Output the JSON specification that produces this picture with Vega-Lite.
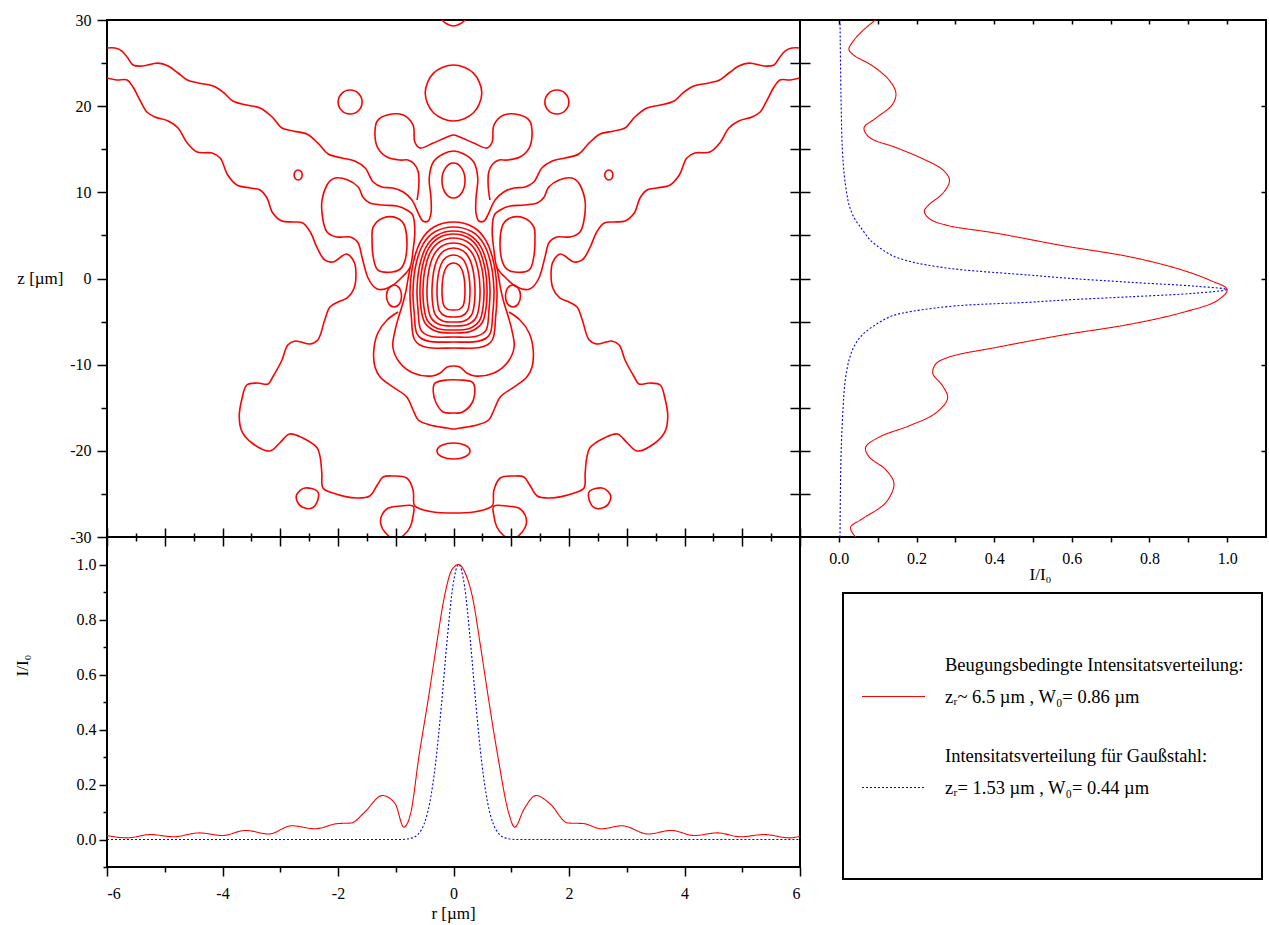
{
  "$schema": "https://vega.github.io/schema/vega-lite/v6.json",
  "autosize": {"type": "none"},
  "padding": {"left": 107, "top": 20, "right": 1162, "bottom": 905},
  "background": "white",
  "columns": 2,
  "align": "each",
  "bounds": "flush",
  "spacing": 0,
  "config": {
    "font": "Liberation Serif",
    "view": {"stroke": "black", "strokeWidth": 2},
    "axis": {"domain": false, "grid": false, "tickColor": "black", "tickWidth": 1.5, "labelFont": "Liberation Serif", "labelFontSize": 16, "labelColor": "black", "titleFont": "Liberation Serif", "titleFontSize": 17, "titleFontWeight": "normal", "titleColor": "black"}
  },
  "datasets": {
    "paths": [
      {"p":"w1","o":1,"r":-6.0,"z":26.75},{"p":"w1","o":2,"r":-5.86,"z":26.75},{"p":"w1","o":3,"r":-5.74,"z":26.4},{"p":"w1","o":4,"r":-5.64,"z":25.59},{"p":"w1","o":5,"r":-5.55,"z":24.78},{"p":"w1","o":6,"r":-5.38,"z":24.66},{"p":"w1","o":7,"r":-5.12,"z":25.0},{"p":"w1","o":8,"r":-4.94,"z":24.66},{"p":"w1","o":9,"r":-4.77,"z":23.85},{"p":"w1","o":10,"r":-4.61,"z":23.04},{"p":"w1","o":11,"r":-4.42,"z":22.69},{"p":"w1","o":12,"r":-4.16,"z":22.34},{"p":"w1","o":13,"r":-3.99,"z":21.64},{"p":"w1","o":14,"r":-3.82,"z":20.6},{"p":"w1","o":15,"r":-3.58,"z":20.13},{"p":"w1","o":16,"r":-3.35,"z":19.79},{"p":"w1","o":17,"r":-3.14,"z":18.74},{"p":"w1","o":18,"r":-2.97,"z":17.47},{"p":"w1","o":19,"r":-2.78,"z":17.12},{"p":"w1","o":20,"r":-2.54,"z":16.77},{"p":"w1","o":21,"r":-2.35,"z":15.73},{"p":"w1","o":22,"r":-2.17,"z":14.45},{"p":"w1","o":23,"r":-1.93,"z":13.98},{"p":"w1","o":24,"r":-1.71,"z":13.64},{"p":"w1","o":25,"r":-1.53,"z":12.82},{"p":"w1","o":26,"r":-1.39,"z":11.2},{"p":"w1","o":27,"r":-1.24,"z":10.62},{"p":"w1","o":28,"r":-1.05,"z":10.5},{"p":"w1","o":29,"r":-0.87,"z":10.04},{"p":"w1","o":30,"r":-0.72,"z":9.11},{"p":"w1","o":31,"r":-0.61,"z":7.6},{"p":"w1","o":32,"r":-0.53,"z":6.67},{"p":"w1","o":33,"r":-0.44,"z":6.67},{"p":"w1","o":34,"r":-0.39,"z":7.6},{"p":"w1","o":35,"r":-0.39,"z":9.34},{"p":"w1","o":36,"r":-0.42,"z":11.66},{"p":"w1","o":37,"r":-0.35,"z":13.52},{"p":"w1","o":38,"r":-0.18,"z":14.45},{"p":"w1","o":39,"r":0,"z":14.8},{"p":"w1","o":40,"r":0.18,"z":14.45},{"p":"w1","o":41,"r":0.35,"z":13.52},{"p":"w1","o":42,"r":0.42,"z":11.66},{"p":"w1","o":43,"r":0.39,"z":9.34},{"p":"w1","o":44,"r":0.39,"z":7.6},{"p":"w1","o":45,"r":0.44,"z":6.67},{"p":"w1","o":46,"r":0.53,"z":6.67},{"p":"w1","o":47,"r":0.61,"z":7.6},{"p":"w1","o":48,"r":0.72,"z":9.11},{"p":"w1","o":49,"r":0.87,"z":10.04},{"p":"w1","o":50,"r":1.05,"z":10.5},{"p":"w1","o":51,"r":1.24,"z":10.62},{"p":"w1","o":52,"r":1.39,"z":11.2},{"p":"w1","o":53,"r":1.53,"z":12.82},{"p":"w1","o":54,"r":1.71,"z":13.64},{"p":"w1","o":55,"r":1.93,"z":13.98},{"p":"w1","o":56,"r":2.17,"z":14.45},{"p":"w1","o":57,"r":2.35,"z":15.73},{"p":"w1","o":58,"r":2.54,"z":16.77},{"p":"w1","o":59,"r":2.78,"z":17.12},{"p":"w1","o":60,"r":2.97,"z":17.47},{"p":"w1","o":61,"r":3.14,"z":18.74},{"p":"w1","o":62,"r":3.35,"z":19.79},{"p":"w1","o":63,"r":3.58,"z":20.13},{"p":"w1","o":64,"r":3.82,"z":20.6},{"p":"w1","o":65,"r":3.99,"z":21.64},{"p":"w1","o":66,"r":4.16,"z":22.34},{"p":"w1","o":67,"r":4.42,"z":22.69},{"p":"w1","o":68,"r":4.61,"z":23.04},{"p":"w1","o":69,"r":4.77,"z":23.85},{"p":"w1","o":70,"r":4.94,"z":24.66},{"p":"w1","o":71,"r":5.12,"z":25.0},{"p":"w1","o":72,"r":5.38,"z":24.66},{"p":"w1","o":73,"r":5.55,"z":24.78},{"p":"w1","o":74,"r":5.64,"z":25.59},{"p":"w1","o":75,"r":5.74,"z":26.4},{"p":"w1","o":76,"r":5.86,"z":26.75},{"p":"w1","o":77,"r":6.0,"z":26.75},

      {"p":"w2","o":1,"r":-6.0,"z":23.27},{"p":"w2","o":2,"r":-5.83,"z":23.04},{"p":"w2","o":3,"r":-5.65,"z":23.04},{"p":"w2","o":4,"r":-5.55,"z":22.22},{"p":"w2","o":5,"r":-5.43,"z":20.71},{"p":"w2","o":6,"r":-5.31,"z":19.32},{"p":"w2","o":7,"r":-5.17,"z":18.74},{"p":"w2","o":8,"r":-4.94,"z":18.28},{"p":"w2","o":9,"r":-4.77,"z":17.47},{"p":"w2","o":10,"r":-4.61,"z":15.73},{"p":"w2","o":11,"r":-4.44,"z":14.68},{"p":"w2","o":12,"r":-4.18,"z":14.56},{"p":"w2","o":13,"r":-4.04,"z":13.98},{"p":"w2","o":14,"r":-3.91,"z":12.01},{"p":"w2","o":15,"r":-3.75,"z":10.85},{"p":"w2","o":16,"r":-3.52,"z":10.5},{"p":"w2","o":17,"r":-3.35,"z":10.27},{"p":"w2","o":18,"r":-3.23,"z":9.34},{"p":"w2","o":19,"r":-3.13,"z":7.6},{"p":"w2","o":20,"r":-2.97,"z":6.67},{"p":"w2","o":21,"r":-2.78,"z":6.56},{"p":"w2","o":22,"r":-2.61,"z":6.44},{"p":"w2","o":23,"r":-2.48,"z":5.4},{"p":"w2","o":24,"r":-2.36,"z":3.54},{"p":"w2","o":25,"r":-2.23,"z":2.15},{"p":"w2","o":26,"r":-2.09,"z":1.91},{"p":"w2","o":27,"r":-1.85,"z":2.84},{"p":"w2","o":28,"r":-1.72,"z":1.91},{"p":"w2","o":29,"r":-1.69,"z":0.75},{"p":"w2","o":30,"r":-1.72,"z":-1.1},{"p":"w2","o":31,"r":-1.84,"z":-2.26},{"p":"w2","o":32,"r":-2.0,"z":-2.73},{"p":"w2","o":33,"r":-2.14,"z":-3.31},{"p":"w2","o":34,"r":-2.23,"z":-4.82},{"p":"w2","o":35,"r":-2.35,"z":-7.14},{"p":"w2","o":36,"r":-2.48,"z":-7.6},{"p":"w2","o":37,"r":-2.74,"z":-7.25},{"p":"w2","o":38,"r":-2.87,"z":-7.72},{"p":"w2","o":39,"r":-2.97,"z":-9.46},{"p":"w2","o":40,"r":-3.13,"z":-11.43},{"p":"w2","o":41,"r":-3.21,"z":-12.24},{"p":"w2","o":42,"r":-3.4,"z":-12.13},{"p":"w2","o":43,"r":-3.58,"z":-12.36},{"p":"w2","o":44,"r":-3.66,"z":-13.87},{"p":"w2","o":45,"r":-3.71,"z":-16.07},{"p":"w2","o":46,"r":-3.66,"z":-17.81},{"p":"w2","o":47,"r":-3.49,"z":-19.09},{"p":"w2","o":48,"r":-3.18,"z":-20.02},{"p":"w2","o":49,"r":-3.01,"z":-19.09},{"p":"w2","o":50,"r":-2.84,"z":-18.05},{"p":"w2","o":51,"r":-2.61,"z":-18.51},{"p":"w2","o":52,"r":-2.36,"z":-19.67},{"p":"w2","o":53,"r":-2.31,"z":-20.71},{"p":"w2","o":54,"r":-2.28,"z":-22.57},{"p":"w2","o":55,"r":-2.26,"z":-24.31},{"p":"w2","o":56,"r":-2.09,"z":-24.89},{"p":"w2","o":57,"r":-1.67,"z":-25.47},{"p":"w2","o":58,"r":-1.45,"z":-25.24},{"p":"w2","o":59,"r":-1.32,"z":-23.96},{"p":"w2","o":60,"r":-1.22,"z":-23.04},{"p":"w2","o":61,"r":-1.05,"z":-22.92},{"p":"w2","o":62,"r":-0.81,"z":-23.15},{"p":"w2","o":63,"r":-0.7,"z":-24.54},{"p":"w2","o":64,"r":-0.68,"z":-26.29},{"p":"w2","o":65,"r":-0.61,"z":-26.64},{"p":"w2","o":66,"r":-0.35,"z":-27.1},{"p":"w2","o":67,"r":0,"z":-27.21},{"p":"w2","o":68,"r":0.35,"z":-27.1},{"p":"w2","o":69,"r":0.61,"z":-26.64},{"p":"w2","o":70,"r":0.68,"z":-26.29},{"p":"w2","o":71,"r":0.7,"z":-24.54},{"p":"w2","o":72,"r":0.81,"z":-23.15},{"p":"w2","o":73,"r":1.05,"z":-22.92},{"p":"w2","o":74,"r":1.22,"z":-23.04},{"p":"w2","o":75,"r":1.32,"z":-23.96},{"p":"w2","o":76,"r":1.45,"z":-25.24},{"p":"w2","o":77,"r":1.67,"z":-25.47},{"p":"w2","o":78,"r":2.09,"z":-24.89},{"p":"w2","o":79,"r":2.26,"z":-24.31},{"p":"w2","o":80,"r":2.28,"z":-22.57},{"p":"w2","o":81,"r":2.31,"z":-20.71},{"p":"w2","o":82,"r":2.36,"z":-19.67},{"p":"w2","o":83,"r":2.61,"z":-18.51},{"p":"w2","o":84,"r":2.84,"z":-18.05},{"p":"w2","o":85,"r":3.01,"z":-19.09},{"p":"w2","o":86,"r":3.18,"z":-20.02},{"p":"w2","o":87,"r":3.49,"z":-19.09},{"p":"w2","o":88,"r":3.66,"z":-17.81},{"p":"w2","o":89,"r":3.71,"z":-16.07},{"p":"w2","o":90,"r":3.66,"z":-13.87},{"p":"w2","o":91,"r":3.58,"z":-12.36},{"p":"w2","o":92,"r":3.4,"z":-12.13},{"p":"w2","o":93,"r":3.21,"z":-12.24},{"p":"w2","o":94,"r":3.13,"z":-11.43},{"p":"w2","o":95,"r":2.97,"z":-9.46},{"p":"w2","o":96,"r":2.87,"z":-7.72},{"p":"w2","o":97,"r":2.74,"z":-7.25},{"p":"w2","o":98,"r":2.48,"z":-7.6},{"p":"w2","o":99,"r":2.35,"z":-7.14},{"p":"w2","o":100,"r":2.23,"z":-4.82},{"p":"w2","o":101,"r":2.14,"z":-3.31},{"p":"w2","o":102,"r":2.0,"z":-2.73},{"p":"w2","o":103,"r":1.84,"z":-2.26},{"p":"w2","o":104,"r":1.72,"z":-1.1},{"p":"w2","o":105,"r":1.69,"z":0.75},{"p":"w2","o":106,"r":1.72,"z":1.91},{"p":"w2","o":107,"r":1.85,"z":2.84},{"p":"w2","o":108,"r":2.09,"z":1.91},{"p":"w2","o":109,"r":2.23,"z":2.15},{"p":"w2","o":110,"r":2.36,"z":3.54},{"p":"w2","o":111,"r":2.48,"z":5.4},{"p":"w2","o":112,"r":2.61,"z":6.44},{"p":"w2","o":113,"r":2.78,"z":6.56},{"p":"w2","o":114,"r":2.97,"z":6.67},{"p":"w2","o":115,"r":3.13,"z":7.6},{"p":"w2","o":116,"r":3.23,"z":9.34},{"p":"w2","o":117,"r":3.35,"z":10.27},{"p":"w2","o":118,"r":3.52,"z":10.5},{"p":"w2","o":119,"r":3.75,"z":10.85},{"p":"w2","o":120,"r":3.91,"z":12.01},{"p":"w2","o":121,"r":4.04,"z":13.98},{"p":"w2","o":122,"r":4.18,"z":14.56},{"p":"w2","o":123,"r":4.44,"z":14.68},{"p":"w2","o":124,"r":4.61,"z":15.73},{"p":"w2","o":125,"r":4.77,"z":17.47},{"p":"w2","o":126,"r":4.94,"z":18.28},{"p":"w2","o":127,"r":5.17,"z":18.74},{"p":"w2","o":128,"r":5.31,"z":19.32},{"p":"w2","o":129,"r":5.43,"z":20.71},{"p":"w2","o":130,"r":5.55,"z":22.22},{"p":"w2","o":131,"r":5.65,"z":23.04},{"p":"w2","o":132,"r":5.83,"z":23.04},{"p":"w2","o":133,"r":6.0,"z":23.27},

      {"p":"ear","o":1,"r":-0.63,"z":9.11},{"p":"ear","o":2,"r":-0.6,"z":10.85},{"p":"ear","o":3,"r":-0.61,"z":12.36},{"p":"ear","o":4,"r":-0.68,"z":13.29},{"p":"ear","o":5,"r":-0.79,"z":13.75},{"p":"ear","o":6,"r":-0.93,"z":13.75},{"p":"ear","o":7,"r":-1.15,"z":14.1},{"p":"ear","o":8,"r":-1.31,"z":15.14},{"p":"ear","o":9,"r":-1.36,"z":16.65},{"p":"ear","o":10,"r":-1.32,"z":18.28},{"p":"ear","o":11,"r":-1.15,"z":18.97},{"p":"ear","o":12,"r":-0.87,"z":18.97},{"p":"ear","o":13,"r":-0.7,"z":17.81},{"p":"ear","o":14,"r":-0.67,"z":15.84},{"p":"ear","o":15,"r":-0.58,"z":15.14},{"p":"ear","o":16,"r":-0.35,"z":15.72},{"p":"ear","o":17,"r":-0.11,"z":16.42},{"p":"ear","o":18,"r":0,"z":16.65},{"p":"ear","o":19,"r":0.11,"z":16.42},{"p":"ear","o":20,"r":0.35,"z":15.72},{"p":"ear","o":21,"r":0.58,"z":15.14},{"p":"ear","o":22,"r":0.67,"z":15.84},{"p":"ear","o":23,"r":0.7,"z":17.81},{"p":"ear","o":24,"r":0.87,"z":18.97},{"p":"ear","o":25,"r":1.15,"z":18.97},{"p":"ear","o":26,"r":1.32,"z":18.28},{"p":"ear","o":27,"r":1.36,"z":16.65},{"p":"ear","o":28,"r":1.31,"z":15.14},{"p":"ear","o":29,"r":1.15,"z":14.1},{"p":"ear","o":30,"r":0.93,"z":13.75},{"p":"ear","o":31,"r":0.79,"z":13.75},{"p":"ear","o":32,"r":0.68,"z":13.29},{"p":"ear","o":33,"r":0.61,"z":12.36},{"p":"ear","o":34,"r":0.6,"z":10.85},{"p":"ear","o":35,"r":0.63,"z":9.11},

      {"p":"c4","o":1,"r":-0.96,"z":-3.89},{"p":"c4","o":2,"r":-1.15,"z":-4.82},{"p":"c4","o":3,"r":-1.31,"z":-6.32},{"p":"c4","o":4,"r":-1.38,"z":-8.3},{"p":"c4","o":5,"r":-1.36,"z":-10.27},{"p":"c4","o":6,"r":-1.27,"z":-11.43},{"p":"c4","o":7,"r":-1.05,"z":-12.59},{"p":"c4","o":8,"r":-0.81,"z":-13.75},{"p":"c4","o":9,"r":-0.7,"z":-15.26},{"p":"c4","o":10,"r":-0.61,"z":-16.42},{"p":"c4","o":11,"r":-0.41,"z":-17.0},{"p":"c4","o":12,"r":-0.11,"z":-17.35},{"p":"c4","o":13,"r":0,"z":-17.47},{"p":"c4","o":14,"r":0.11,"z":-17.35},{"p":"c4","o":15,"r":0.41,"z":-17.0},{"p":"c4","o":16,"r":0.61,"z":-16.42},{"p":"c4","o":17,"r":0.7,"z":-15.26},{"p":"c4","o":18,"r":0.81,"z":-13.75},{"p":"c4","o":19,"r":1.05,"z":-12.59},{"p":"c4","o":20,"r":1.27,"z":-11.43},{"p":"c4","o":21,"r":1.36,"z":-10.27},{"p":"c4","o":22,"r":1.38,"z":-8.3},{"p":"c4","o":23,"r":1.31,"z":-6.32},{"p":"c4","o":24,"r":1.15,"z":-4.82},{"p":"c4","o":25,"r":0.96,"z":-3.89},

      {"p":"c5","o":1,"r":-0.75,"z":1.33},{"p":"c5","o":2,"r":-0.79,"z":-0.17},{"p":"c5","o":3,"r":-0.82,"z":-1.33},{"p":"c5","o":4,"r":-0.87,"z":-2.73},{"p":"c5","o":5,"r":-0.94,"z":-4.24},{"p":"c5","o":6,"r":-1.01,"z":-5.98},{"p":"c5","o":7,"r":-1.05,"z":-7.95},{"p":"c5","o":8,"r":-0.94,"z":-9.69},{"p":"c5","o":9,"r":-0.7,"z":-10.97},{"p":"c5","o":10,"r":-0.37,"z":-11.31},{"p":"c5","o":11,"r":-0.23,"z":-10.97},{"p":"c5","o":12,"r":-0.11,"z":-10.27},{"p":"c5","o":13,"r":0,"z":-10.15},{"p":"c5","o":14,"r":0.11,"z":-10.27},{"p":"c5","o":15,"r":0.23,"z":-10.97},{"p":"c5","o":16,"r":0.37,"z":-11.31},{"p":"c5","o":17,"r":0.7,"z":-10.97},{"p":"c5","o":18,"r":0.94,"z":-9.69},{"p":"c5","o":19,"r":1.05,"z":-7.95},{"p":"c5","o":20,"r":1.01,"z":-5.98},{"p":"c5","o":21,"r":0.94,"z":-4.24},{"p":"c5","o":22,"r":0.87,"z":-2.73},{"p":"c5","o":23,"r":0.82,"z":-1.33},{"p":"c5","o":24,"r":0.79,"z":-0.17},{"p":"c5","o":25,"r":0.75,"z":1.33},

      {"p":"arc","o":1,"r":-0.27,"z":30.7},{"p":"arc","o":2,"r":-0.2,"z":30.0},{"p":"arc","o":3,"r":-0.11,"z":29.53},{"p":"arc","o":4,"r":0,"z":29.3},{"p":"arc","o":5,"r":0.11,"z":29.53},{"p":"arc","o":6,"r":0.2,"z":30.0},{"p":"arc","o":7,"r":0.27,"z":30.7}
    ],
    "loops": [
      {"p":"c22","o":1,"r":0.49,"z":21.53},{"p":"c22","o":2,"r":0.346,"z":23.83},{"p":"c22","o":3,"r":0,"z":24.78},{"p":"c22","o":4,"r":-0.346,"z":23.83},{"p":"c22","o":5,"r":-0.49,"z":21.53},{"p":"c22","o":6,"r":-0.346,"z":19.23},{"p":"c22","o":7,"r":0,"z":18.28},{"p":"c22","o":8,"r":0.346,"z":19.23},

      {"p":"sml","o":1,"r":-1.582,"z":20.48},{"p":"sml","o":2,"r":-1.643,"z":21.46},{"p":"sml","o":3,"r":-1.79,"z":21.87},{"p":"sml","o":4,"r":-1.937,"z":21.46},{"p":"sml","o":5,"r":-1.998,"z":20.48},{"p":"sml","o":6,"r":-1.937,"z":19.5},{"p":"sml","o":7,"r":-1.79,"z":19.09},{"p":"sml","o":8,"r":-1.643,"z":19.5},
      {"p":"smr","o":1,"r":1.582,"z":20.48},{"p":"smr","o":2,"r":1.643,"z":21.46},{"p":"smr","o":3,"r":1.79,"z":21.87},{"p":"smr","o":4,"r":1.937,"z":21.46},{"p":"smr","o":5,"r":1.998,"z":20.48},{"p":"smr","o":6,"r":1.937,"z":19.5},{"p":"smr","o":7,"r":1.79,"z":19.09},{"p":"smr","o":8,"r":1.643,"z":19.5},

      {"p":"dl","o":1,"r":-2.62,"z":12.01},{"p":"dl","o":2,"r":-2.64,"z":12.42},{"p":"dl","o":3,"r":-2.69,"z":12.59},{"p":"dl","o":4,"r":-2.74,"z":12.42},{"p":"dl","o":5,"r":-2.76,"z":12.01},{"p":"dl","o":6,"r":-2.74,"z":11.6},{"p":"dl","o":7,"r":-2.69,"z":11.43},{"p":"dl","o":8,"r":-2.64,"z":11.6},
      {"p":"dr","o":1,"r":2.62,"z":12.01},{"p":"dr","o":2,"r":2.64,"z":12.42},{"p":"dr","o":3,"r":2.69,"z":12.59},{"p":"dr","o":4,"r":2.74,"z":12.42},{"p":"dr","o":5,"r":2.76,"z":12.01},{"p":"dr","o":6,"r":2.74,"z":11.6},{"p":"dr","o":7,"r":2.69,"z":11.43},{"p":"dr","o":8,"r":2.64,"z":11.6},

      {"p":"e11","o":1,"r":0.2,"z":11.37},{"p":"e11","o":2,"r":0.141,"z":12.81},{"p":"e11","o":3,"r":0,"z":13.4},{"p":"e11","o":4,"r":-0.141,"z":12.81},{"p":"e11","o":5,"r":-0.2,"z":11.37},{"p":"e11","o":6,"r":-0.141,"z":9.93},{"p":"e11","o":7,"r":0,"z":9.34},{"p":"e11","o":8,"r":0.141,"z":9.93},

      {"p":"la","o":1,"r":-0.7,"z":7.25},{"p":"la","o":2,"r":-0.81,"z":7.95},{"p":"la","o":3,"r":-0.98,"z":8.41},{"p":"la","o":4,"r":-1.22,"z":8.53},{"p":"la","o":5,"r":-1.45,"z":8.76},{"p":"la","o":6,"r":-1.57,"z":9.46},{"p":"la","o":7,"r":-1.65,"z":10.62},{"p":"la","o":8,"r":-1.83,"z":11.43},{"p":"la","o":9,"r":-2.05,"z":11.66},{"p":"la","o":10,"r":-2.19,"z":10.85},{"p":"la","o":11,"r":-2.28,"z":8.88},{"p":"la","o":12,"r":-2.26,"z":6.79},{"p":"la","o":13,"r":-2.19,"z":5.4},{"p":"la","o":14,"r":-2.02,"z":4.82},{"p":"la","o":15,"r":-1.79,"z":4.82},{"p":"la","o":16,"r":-1.65,"z":4.12},{"p":"la","o":17,"r":-1.58,"z":2.38},{"p":"la","o":18,"r":-1.48,"z":0.06},{"p":"la","o":19,"r":-1.32,"z":-1.22},{"p":"la","o":20,"r":-1.1,"z":-0.99},{"p":"la","o":21,"r":-0.89,"z":0.17},{"p":"la","o":22,"r":-0.75,"z":1.33},{"p":"la","o":23,"r":-0.7,"z":3.31},{"p":"la","o":24,"r":-0.67,"z":5.4},
      {"p":"ra","o":1,"r":0.7,"z":7.25},{"p":"ra","o":2,"r":0.81,"z":7.95},{"p":"ra","o":3,"r":0.98,"z":8.41},{"p":"ra","o":4,"r":1.22,"z":8.53},{"p":"ra","o":5,"r":1.45,"z":8.76},{"p":"ra","o":6,"r":1.57,"z":9.46},{"p":"ra","o":7,"r":1.65,"z":10.62},{"p":"ra","o":8,"r":1.83,"z":11.43},{"p":"ra","o":9,"r":2.05,"z":11.66},{"p":"ra","o":10,"r":2.19,"z":10.85},{"p":"ra","o":11,"r":2.28,"z":8.88},{"p":"ra","o":12,"r":2.26,"z":6.79},{"p":"ra","o":13,"r":2.19,"z":5.4},{"p":"ra","o":14,"r":2.02,"z":4.82},{"p":"ra","o":15,"r":1.79,"z":4.82},{"p":"ra","o":16,"r":1.65,"z":4.12},{"p":"ra","o":17,"r":1.58,"z":2.38},{"p":"ra","o":18,"r":1.48,"z":0.06},{"p":"ra","o":19,"r":1.32,"z":-1.22},{"p":"ra","o":20,"r":1.1,"z":-0.99},{"p":"ra","o":21,"r":0.89,"z":0.17},{"p":"ra","o":22,"r":0.75,"z":1.33},{"p":"ra","o":23,"r":0.7,"z":3.31},{"p":"ra","o":24,"r":0.67,"z":5.4},

      {"p":"le","o":1,"r":-1.39,"z":5.98},{"p":"le","o":2,"r":-1.22,"z":7.02},{"p":"le","o":3,"r":-0.98,"z":7.02},{"p":"le","o":4,"r":-0.84,"z":5.98},{"p":"le","o":5,"r":-0.81,"z":3.31},{"p":"le","o":6,"r":-0.89,"z":1.33},{"p":"le","o":7,"r":-1.06,"z":0.75},{"p":"le","o":8,"r":-1.31,"z":0.99},{"p":"le","o":9,"r":-1.39,"z":2.5},{"p":"le","o":10,"r":-1.41,"z":4.47},
      {"p":"re","o":1,"r":1.39,"z":5.98},{"p":"re","o":2,"r":1.22,"z":7.02},{"p":"re","o":3,"r":0.98,"z":7.02},{"p":"re","o":4,"r":0.84,"z":5.98},{"p":"re","o":5,"r":0.81,"z":3.31},{"p":"re","o":6,"r":0.89,"z":1.33},{"p":"re","o":7,"r":1.06,"z":0.75},{"p":"re","o":8,"r":1.31,"z":0.99},{"p":"re","o":9,"r":1.39,"z":2.5},{"p":"re","o":10,"r":1.41,"z":4.47},

      {"p":"sdl","o":1,"r":-0.9,"z":-2.03},{"p":"sdl","o":2,"r":-0.935,"z":-1.125},{"p":"sdl","o":3,"r":-1.03,"z":-0.75},{"p":"sdl","o":4,"r":-1.122,"z":-1.125},{"p":"sdl","o":5,"r":-1.16,"z":-2.03},{"p":"sdl","o":6,"r":-1.122,"z":-2.935},{"p":"sdl","o":7,"r":-1.03,"z":-3.31},{"p":"sdl","o":8,"r":-0.935,"z":-2.935},
      {"p":"sdr","o":1,"r":0.9,"z":-2.03},{"p":"sdr","o":2,"r":0.935,"z":-1.125},{"p":"sdr","o":3,"r":1.03,"z":-0.75},{"p":"sdr","o":4,"r":1.122,"z":-1.125},{"p":"sdr","o":5,"r":1.16,"z":-2.03},{"p":"sdr","o":6,"r":1.122,"z":-2.935},{"p":"sdr","o":7,"r":1.03,"z":-3.31},{"p":"sdr","o":8,"r":0.935,"z":-2.935},

      {"p":"n1","o":1,"r":0,"z":1.8},{"p":"n1","o":2,"r":0.09,"z":1.58},{"p":"n1","o":3,"r":0.149,"z":0.98},{"p":"n1","o":4,"r":0.185,"z":0.0},{"p":"n1","o":5,"r":0.199,"z":-1.2},{"p":"n1","o":6,"r":0.193,"z":-2.3},{"p":"n1","o":7,"r":0.169,"z":-3.11},{"p":"n1","o":8,"r":0.1,"z":-3.58},{"p":"n1","o":9,"r":0,"z":-3.66},{"p":"n1","o":10,"r":-0.1,"z":-3.58},{"p":"n1","o":11,"r":-0.169,"z":-3.11},{"p":"n1","o":12,"r":-0.193,"z":-2.3},{"p":"n1","o":13,"r":-0.199,"z":-1.2},{"p":"n1","o":14,"r":-0.185,"z":0.0},{"p":"n1","o":15,"r":-0.149,"z":0.98},{"p":"n1","o":16,"r":-0.09,"z":1.58},
      {"p":"n2","o":1,"r":0,"z":2.73},{"p":"n2","o":2,"r":0.129,"z":2.44},{"p":"n2","o":3,"r":0.215,"z":1.65},{"p":"n2","o":4,"r":0.266,"z":0.35},{"p":"n2","o":5,"r":0.286,"z":-1.23},{"p":"n2","o":6,"r":0.277,"z":-2.67},{"p":"n2","o":7,"r":0.243,"z":-3.75},{"p":"n2","o":8,"r":0.143,"z":-4.36},{"p":"n2","o":9,"r":0,"z":-4.47},{"p":"n2","o":10,"r":-0.143,"z":-4.36},{"p":"n2","o":11,"r":-0.243,"z":-3.75},{"p":"n2","o":12,"r":-0.277,"z":-2.67},{"p":"n2","o":13,"r":-0.286,"z":-1.23},{"p":"n2","o":14,"r":-0.266,"z":0.35},{"p":"n2","o":15,"r":-0.215,"z":1.65},{"p":"n2","o":16,"r":-0.129,"z":2.44},
      {"p":"n3","o":1,"r":0,"z":3.54},{"p":"n3","o":2,"r":0.167,"z":3.2},{"p":"n3","o":3,"r":0.279,"z":2.25},{"p":"n3","o":4,"r":0.346,"z":0.71},{"p":"n3","o":5,"r":0.372,"z":-1.19},{"p":"n3","o":6,"r":0.361,"z":-2.9},{"p":"n3","o":7,"r":0.316,"z":-4.19},{"p":"n3","o":8,"r":0.186,"z":-4.92},{"p":"n3","o":9,"r":0,"z":-5.05},{"p":"n3","o":10,"r":-0.186,"z":-4.92},{"p":"n3","o":11,"r":-0.316,"z":-4.19},{"p":"n3","o":12,"r":-0.361,"z":-2.9},{"p":"n3","o":13,"r":-0.372,"z":-1.19},{"p":"n3","o":14,"r":-0.346,"z":0.71},{"p":"n3","o":15,"r":-0.279,"z":2.25},{"p":"n3","o":16,"r":-0.167,"z":3.2},
      {"p":"n4","o":1,"r":0,"z":4.12},{"p":"n4","o":2,"r":0.207,"z":3.74},{"p":"n4","o":3,"r":0.344,"z":2.68},{"p":"n4","o":4,"r":0.427,"z":0.94},{"p":"n4","o":5,"r":0.459,"z":-1.18},{"p":"n4","o":6,"r":0.445,"z":-3.1},{"p":"n4","o":7,"r":0.39,"z":-4.55},{"p":"n4","o":8,"r":0.23,"z":-5.37},{"p":"n4","o":9,"r":0,"z":-5.51},{"p":"n4","o":10,"r":-0.23,"z":-5.37},{"p":"n4","o":11,"r":-0.39,"z":-4.55},{"p":"n4","o":12,"r":-0.445,"z":-3.1},{"p":"n4","o":13,"r":-0.459,"z":-1.18},{"p":"n4","o":14,"r":-0.427,"z":0.94},{"p":"n4","o":15,"r":-0.344,"z":2.68},{"p":"n4","o":16,"r":-0.207,"z":3.74},
      {"p":"n5","o":1,"r":0,"z":4.7},{"p":"n5","o":2,"r":0.238,"z":4.27},{"p":"n5","o":3,"r":0.396,"z":3.1},{"p":"n5","o":4,"r":0.491,"z":1.18},{"p":"n5","o":5,"r":0.528,"z":-1.17},{"p":"n5","o":6,"r":0.512,"z":-3.31},{"p":"n5","o":7,"r":0.449,"z":-4.91},{"p":"n5","o":8,"r":0.264,"z":-5.82},{"p":"n5","o":9,"r":0,"z":-5.98},{"p":"n5","o":10,"r":-0.264,"z":-5.82},{"p":"n5","o":11,"r":-0.449,"z":-4.91},{"p":"n5","o":12,"r":-0.512,"z":-3.31},{"p":"n5","o":13,"r":-0.528,"z":-1.17},{"p":"n5","o":14,"r":-0.491,"z":1.18},{"p":"n5","o":15,"r":-0.396,"z":3.1},{"p":"n5","o":16,"r":-0.238,"z":4.27},
      {"p":"n6","o":1,"r":0,"z":5.16},{"p":"n6","o":2,"r":0.261,"z":4.7},{"p":"n6","o":3,"r":0.435,"z":3.44},{"p":"n6","o":4,"r":0.539,"z":1.37},{"p":"n6","o":5,"r":0.58,"z":-1.15},{"p":"n6","o":6,"r":0.563,"z":-3.45},{"p":"n6","o":7,"r":0.493,"z":-5.17},{"p":"n6","o":8,"r":0.29,"z":-6.15},{"p":"n6","o":9,"r":0,"z":-6.32},{"p":"n6","o":10,"r":-0.29,"z":-6.15},{"p":"n6","o":11,"r":-0.493,"z":-5.17},{"p":"n6","o":12,"r":-0.563,"z":-3.45},{"p":"n6","o":13,"r":-0.58,"z":-1.15},{"p":"n6","o":14,"r":-0.539,"z":1.37},{"p":"n6","o":15,"r":-0.435,"z":3.44},{"p":"n6","o":16,"r":-0.261,"z":4.7},
      {"p":"n7","o":1,"r":0,"z":5.51},{"p":"n7","o":2,"r":0.284,"z":5.02},{"p":"n7","o":3,"r":0.474,"z":3.67},{"p":"n7","o":4,"r":0.588,"z":1.45},{"p":"n7","o":5,"r":0.632,"z":-1.26},{"p":"n7","o":6,"r":0.613,"z":-3.72},{"p":"n7","o":7,"r":0.569,"z":-5.93},{"p":"n7","o":8,"r":0.379,"z":-6.73},{"p":"n7","o":9,"r":0,"z":-6.79},{"p":"n7","o":10,"r":-0.379,"z":-6.73},{"p":"n7","o":11,"r":-0.569,"z":-5.93},{"p":"n7","o":12,"r":-0.613,"z":-3.72},{"p":"n7","o":13,"r":-0.632,"z":-1.26},{"p":"n7","o":14,"r":-0.588,"z":1.45},{"p":"n7","o":15,"r":-0.474,"z":3.67},{"p":"n7","o":16,"r":-0.284,"z":5.02},
      {"p":"n8","o":1,"r":0,"z":5.98},{"p":"n8","o":2,"r":0.315,"z":5.45},{"p":"n8","o":3,"r":0.526,"z":3.98},{"p":"n8","o":4,"r":0.652,"z":1.57},{"p":"n8","o":5,"r":0.701,"z":-1.36},{"p":"n8","o":6,"r":0.68,"z":-4.03},{"p":"n8","o":7,"r":0.631,"z":-6.44},{"p":"n8","o":8,"r":0.421,"z":-7.3},{"p":"n8","o":9,"r":0,"z":-7.37},{"p":"n8","o":10,"r":-0.421,"z":-7.3},{"p":"n8","o":11,"r":-0.631,"z":-6.44},{"p":"n8","o":12,"r":-0.68,"z":-4.03},{"p":"n8","o":13,"r":-0.701,"z":-1.36},{"p":"n8","o":14,"r":-0.652,"z":1.57},{"p":"n8","o":15,"r":-0.526,"z":3.98},{"p":"n8","o":16,"r":-0.315,"z":5.45},
      {"p":"n9","o":1,"r":0,"z":6.56},{"p":"n9","o":2,"r":0.339,"z":5.98},{"p":"n9","o":3,"r":0.565,"z":4.37},{"p":"n9","o":4,"r":0.7,"z":1.73},{"p":"n9","o":5,"r":0.753,"z":-1.49},{"p":"n9","o":6,"r":0.73,"z":-4.41},{"p":"n9","o":7,"r":0.678,"z":-7.05},{"p":"n9","o":8,"r":0.452,"z":-8.0},{"p":"n9","o":9,"r":0,"z":-8.07},{"p":"n9","o":10,"r":-0.452,"z":-8.0},{"p":"n9","o":11,"r":-0.678,"z":-7.05},{"p":"n9","o":12,"r":-0.73,"z":-4.41},{"p":"n9","o":13,"r":-0.753,"z":-1.49},{"p":"n9","o":14,"r":-0.7,"z":1.73},{"p":"n9","o":15,"r":-0.565,"z":4.37},{"p":"n9","o":16,"r":-0.339,"z":5.98},

      {"p":"b13","o":1,"r":-0.32,"z":-12.13},{"p":"b13","o":2,"r":-0.11,"z":-11.78},{"p":"b13","o":3,"r":0.11,"z":-11.78},{"p":"b13","o":4,"r":0.32,"z":-12.01},{"p":"b13","o":5,"r":0.37,"z":-12.94},{"p":"b13","o":6,"r":0.32,"z":-14.45},{"p":"b13","o":7,"r":0.16,"z":-15.49},{"p":"b13","o":8,"r":0,"z":-15.61},{"p":"b13","o":9,"r":-0.18,"z":-15.49},{"p":"b13","o":10,"r":-0.3,"z":-14.45},{"p":"b13","o":11,"r":-0.35,"z":-13.17},

      {"p":"e20","o":1,"r":0.286,"z":-20.02},{"p":"e20","o":2,"r":0.202,"z":-19.36},{"p":"e20","o":3,"r":0,"z":-19.09},{"p":"e20","o":4,"r":-0.202,"z":-19.36},{"p":"e20","o":5,"r":-0.286,"z":-20.02},{"p":"e20","o":6,"r":-0.202,"z":-20.68},{"p":"e20","o":7,"r":0,"z":-20.95},{"p":"e20","o":8,"r":0.202,"z":-20.68},

      {"p":"bl","o":1,"r":-0.7,"z":-26.41},{"p":"bl","o":2,"r":-0.93,"z":-26.41},{"p":"bl","o":3,"r":-1.13,"z":-26.64},{"p":"bl","o":4,"r":-1.24,"z":-27.45},{"p":"bl","o":5,"r":-1.26,"z":-28.49},{"p":"bl","o":6,"r":-1.19,"z":-29.42},{"p":"bl","o":7,"r":-1.01,"z":-30.35},{"p":"bl","o":8,"r":-0.86,"z":-29.77},{"p":"bl","o":9,"r":-0.75,"z":-28.84},{"p":"bl","o":10,"r":-0.7,"z":-27.56},
      {"p":"br","o":1,"r":0.7,"z":-26.41},{"p":"br","o":2,"r":0.93,"z":-26.41},{"p":"br","o":3,"r":1.13,"z":-26.64},{"p":"br","o":4,"r":1.24,"z":-27.45},{"p":"br","o":5,"r":1.26,"z":-28.49},{"p":"br","o":6,"r":1.19,"z":-29.42},{"p":"br","o":7,"r":1.01,"z":-30.35},{"p":"br","o":8,"r":0.86,"z":-29.77},{"p":"br","o":9,"r":0.75,"z":-28.84},{"p":"br","o":10,"r":0.7,"z":-27.56},

      {"p":"sl","o":1,"r":-2.71,"z":-25.01},{"p":"sl","o":2,"r":-2.57,"z":-24.31},{"p":"sl","o":3,"r":-2.36,"z":-24.66},{"p":"sl","o":4,"r":-2.35,"z":-25.71},{"p":"sl","o":5,"r":-2.45,"z":-26.64},{"p":"sl","o":6,"r":-2.62,"z":-26.52},{"p":"sl","o":7,"r":-2.71,"z":-25.82},
      {"p":"sr","o":1,"r":2.71,"z":-25.01},{"p":"sr","o":2,"r":2.57,"z":-24.31},{"p":"sr","o":3,"r":2.36,"z":-24.66},{"p":"sr","o":4,"r":2.35,"z":-25.71},{"p":"sr","o":5,"r":2.45,"z":-26.64},{"p":"sr","o":6,"r":2.62,"z":-26.52},{"p":"sr","o":7,"r":2.71,"z":-25.82}
    ],
    "axial": [
      {"s":"beugung","z":30.0,"I":0.094},{"s":"beugung","z":28.7,"I":0.06},{"s":"beugung","z":27.6,"I":0.038},{"s":"beugung","z":26.6,"I":0.026},{"s":"beugung","z":25.9,"I":0.039},{"s":"beugung","z":24.7,"I":0.086},{"s":"beugung","z":23.0,"I":0.13},{"s":"beugung","z":21.5,"I":0.147},{"s":"beugung","z":20.2,"I":0.138},{"s":"beugung","z":18.6,"I":0.095},{"s":"beugung","z":17.5,"I":0.065},{"s":"beugung","z":16.4,"I":0.078},{"s":"beugung","z":15.2,"I":0.147},{"s":"beugung","z":13.9,"I":0.216},{"s":"beugung","z":12.6,"I":0.268},{"s":"beugung","z":11.4,"I":0.285},{"s":"beugung","z":9.9,"I":0.268},{"s":"beugung","z":8.6,"I":0.233},{"s":"beugung","z":7.8,"I":0.22},{"s":"beugung","z":6.95,"I":0.233},{"s":"beugung","z":6.2,"I":0.276},{"s":"beugung","z":5.26,"I":0.405},{"s":"beugung","z":3.8,"I":0.578},{"s":"beugung","z":2.5,"I":0.751},{"s":"beugung","z":1.04,"I":0.88},{"s":"beugung","z":-0.23,"I":0.957},{"s":"beugung","z":-1.28,"I":1.0},{"s":"beugung","z":-2.55,"I":0.975},{"s":"beugung","z":-4.0,"I":0.88},{"s":"beugung","z":-5.3,"I":0.751},{"s":"beugung","z":-6.55,"I":0.578},{"s":"beugung","z":-8.0,"I":0.405},{"s":"beugung","z":-9.1,"I":0.285},{"s":"beugung","z":-9.9,"I":0.25},{"s":"beugung","z":-11.0,"I":0.242},{"s":"beugung","z":-12.5,"I":0.268},{"s":"beugung","z":-13.9,"I":0.28},{"s":"beugung","z":-15.6,"I":0.25},{"s":"beugung","z":-17.1,"I":0.181},{"s":"beugung","z":-18.4,"I":0.104},{"s":"beugung","z":-19.6,"I":0.069},{"s":"beugung","z":-20.7,"I":0.078},{"s":"beugung","z":-22.2,"I":0.121},{"s":"beugung","z":-23.8,"I":0.142},{"s":"beugung","z":-26.0,"I":0.121},{"s":"beugung","z":-27.9,"I":0.06},{"s":"beugung","z":-28.9,"I":0.03},{"s":"beugung","z":-30.0,"I":0.043},
      {"s":"gauss","z":30,"I":0.003},{"s":"gauss","z":20,"I":0.006},{"s":"gauss","z":15,"I":0.009},{"s":"gauss","z":12,"I":0.014},{"s":"gauss","z":10,"I":0.02},{"s":"gauss","z":8.6,"I":0.026},{"s":"gauss","z":7,"I":0.04},{"s":"gauss","z":5.7,"I":0.06},{"s":"gauss","z":4.5,"I":0.08},{"s":"gauss","z":3.6,"I":0.104},{"s":"gauss","z":2.6,"I":0.14},{"s":"gauss","z":1.9,"I":0.19},{"s":"gauss","z":1.4,"I":0.25},{"s":"gauss","z":1.0,"I":0.32},{"s":"gauss","z":0.4,"I":0.49},{"s":"gauss","z":0,"I":0.6},{"s":"gauss","z":-0.44,"I":0.75},{"s":"gauss","z":-0.9,"I":0.92},{"s":"gauss","z":-1.28,"I":1.0},{"s":"gauss","z":-1.7,"I":0.92},{"s":"gauss","z":-2.12,"I":0.75},{"s":"gauss","z":-2.5,"I":0.58},{"s":"gauss","z":-2.76,"I":0.49},{"s":"gauss","z":-3.18,"I":0.3},{"s":"gauss","z":-3.8,"I":0.19},{"s":"gauss","z":-4.3,"I":0.14},{"s":"gauss","z":-5.1,"I":0.104},{"s":"gauss","z":-6.56,"I":0.06},{"s":"gauss","z":-8,"I":0.038},{"s":"gauss","z":-9.5,"I":0.026},{"s":"gauss","z":-12,"I":0.016},{"s":"gauss","z":-15,"I":0.011},{"s":"gauss","z":-20,"I":0.006},{"s":"gauss","z":-25,"I":0.004},{"s":"gauss","z":-30,"I":0.003}
    ],
    "radial": [
      {"s":"beugung","r":-6.0,"I":0.0145},{"s":"beugung","r":-5.65,"I":0.006},{"s":"beugung","r":-5.25,"I":0.018},{"s":"beugung","r":-4.85,"I":0.01},{"s":"beugung","r":-4.4,"I":0.024},{"s":"beugung","r":-4.0,"I":0.0145},{"s":"beugung","r":-3.6,"I":0.033},{"s":"beugung","r":-3.2,"I":0.02},{"s":"beugung","r":-2.8,"I":0.05},{"s":"beugung","r":-2.4,"I":0.039},{"s":"beugung","r":-2.0,"I":0.058},{"s":"beugung","r":-1.77,"I":0.06},{"s":"beugung","r":-1.55,"I":0.097},{"s":"beugung","r":-1.23,"I":0.16},{"s":"beugung","r":-1.01,"I":0.13},{"s":"beugung","r":-0.86,"I":0.045},{"s":"beugung","r":-0.74,"I":0.097},{"s":"beugung","r":-0.6,"I":0.3},{"s":"beugung","r":-0.43,"I":0.52},{"s":"beugung","r":-0.3,"I":0.7},{"s":"beugung","r":-0.16,"I":0.88},{"s":"beugung","r":-0.03,"I":0.98},{"s":"beugung","r":0.09,"I":1.0},{"s":"beugung","r":0.2,"I":0.97},{"s":"beugung","r":0.33,"I":0.88},{"s":"beugung","r":0.47,"I":0.7},{"s":"beugung","r":0.6,"I":0.52},{"s":"beugung","r":0.77,"I":0.3},{"s":"beugung","r":0.955,"I":0.097},{"s":"beugung","r":1.06,"I":0.045},{"s":"beugung","r":1.22,"I":0.11},{"s":"beugung","r":1.43,"I":0.16},{"s":"beugung","r":1.67,"I":0.13},{"s":"beugung","r":1.98,"I":0.06},{"s":"beugung","r":2.25,"I":0.058},{"s":"beugung","r":2.56,"I":0.039},{"s":"beugung","r":2.92,"I":0.05},{"s":"beugung","r":3.37,"I":0.02},{"s":"beugung","r":3.77,"I":0.033},{"s":"beugung","r":4.17,"I":0.0145},{"s":"beugung","r":4.57,"I":0.024},{"s":"beugung","r":4.97,"I":0.01},{"s":"beugung","r":5.38,"I":0.018},{"s":"beugung","r":5.82,"I":0.006},{"s":"beugung","r":6.0,"I":0.012},
      {"s":"gauss","r":-6.0,"I":0.0},{"s":"gauss","r":-0.91,"I":0.0},{"s":"gauss","r":-0.71,"I":0.006},{"s":"gauss","r":-0.61,"I":0.02},{"s":"gauss","r":-0.51,"I":0.056},{"s":"gauss","r":-0.41,"I":0.135},{"s":"gauss","r":-0.31,"I":0.278},{"s":"gauss","r":-0.21,"I":0.487},{"s":"gauss","r":-0.11,"I":0.726},{"s":"gauss","r":-0.01,"I":0.923},{"s":"gauss","r":0.09,"I":1.0},{"s":"gauss","r":0.19,"I":0.923},{"s":"gauss","r":0.29,"I":0.726},{"s":"gauss","r":0.39,"I":0.487},{"s":"gauss","r":0.49,"I":0.278},{"s":"gauss","r":0.59,"I":0.135},{"s":"gauss","r":0.69,"I":0.056},{"s":"gauss","r":0.79,"I":0.02},{"s":"gauss","r":0.89,"I":0.006},{"s":"gauss","r":1.09,"I":0.0},{"s":"gauss","r":6.0,"I":0.0}
    ]
  },
  "concat": [
    {
      "width": 693,
      "height": 517,
      "layer": [
        {
          "data": {"name": "paths"},
          "mark": {"type": "line", "color": "#ff0000", "strokeWidth": 1.6, "interpolate": "catmull-rom", "clip": true},
          "encoding": {
            "x": {"field": "r", "type": "quantitative", "scale": {"domain": [-6, 6], "nice": false, "zero": false},
                  "axis": {"orient": "bottom", "values": [-6,-5,-4,-3,-2,-1,0,1,2,3,4,5,6], "tickSize": 9, "labels": false, "title": null}},
            "y": {"field": "z", "type": "quantitative", "scale": {"domain": [-30, 30], "nice": false, "zero": false},
                  "axis": {"orient": "left", "values": [-30,-20,-10,0,10,20,30], "tickSize": 10, "labelPadding": 6, "labelExpr": "toString(datum.value)",
                           "title": "z [µm]", "titleAngle": 0, "titleAlign": "right", "titleBaseline": "middle", "titleX": -44, "titleY": 258}},
            "detail": {"field": "p"},
            "order": {"field": "o"}
          }
        },
        {
          "data": {"name": "loops"},
          "mark": {"type": "line", "color": "#ff0000", "strokeWidth": 1.6, "interpolate": "cardinal-closed", "clip": true},
          "encoding": {
            "x": {"field": "r", "type": "quantitative", "scale": {"domain": [-6, 6], "nice": false, "zero": false},
                  "axis": {"orient": "bottom", "values": [-5.5,-4.5,-3.5,-2.5,-1.5,-0.5,0.5,1.5,2.5,3.5,4.5,5.5], "tickSize": 4, "labels": false, "title": null}},
            "y": {"field": "z", "type": "quantitative", "scale": {"domain": [-30, 30], "nice": false, "zero": false},
                  "axis": {"orient": "left", "values": [-25,-15,-5,5,15,25], "tickSize": 6, "labels": false, "title": null}},
            "detail": {"field": "p"},
            "order": {"field": "o"}
          }
        },
        {
          "data": {"name": "loops"},
          "mark": {"type": "point", "opacity": 0},
          "encoding": {
            "x": {"field": "r", "type": "quantitative", "axis": null},
            "y": {"field": "z", "type": "quantitative",
                  "axis": {"orient": "right", "values": [-25,-20,-15,-10,-5,0,5,10,15,20,25], "tickSize": 10, "labels": false, "title": null}}
          }
        }
      ],
      "resolve": {"axis": {"x": "independent", "y": "independent"}}
    },
    {
      "width": 466,
      "height": 517,
      "data": {"name": "axial"},
      "layer": [
        {
          "mark": {"type": "line", "strokeWidth": 1.1, "interpolate": "catmull-rom", "clip": true},
          "encoding": {
            "x": {"field": "I", "type": "quantitative", "scale": {"domain": [-0.1, 1.1], "nice": false, "zero": false},
                  "axis": {"orient": "bottom", "values": [0,0.1,0.2,0.3,0.4,0.5,0.6,0.7,0.8,0.9,1.0], "tickSize": 5, "labelPadding": 8,
                           "labelExpr": "round(datum.value*10) % 2 == 0 ? format(datum.value, '.1f') : ''",
                           "title": "I/I₀", "titleX": 240, "titleY": 37, "titleAlign": "center", "titleBaseline": "middle"}},
            "y": {"field": "z", "type": "quantitative", "scale": {"domain": [-30, 30], "nice": false, "zero": false},
                  "axis": {"orient": "left", "values": [-25,-20,-15,-10,-5,0,5,10,15,20,25], "tickSize": 10, "labels": false, "title": null}},
            "color": {"field": "s", "type": "nominal", "scale": {"domain": ["beugung", "gauss"], "range": ["#ff0000", "#0000ff"]},
                      "legend": {"orient": "none", "legendX": 736, "legendY": 573, "title": " ", "titleFontSize": 8, "titlePadding": 45, "padding": 18,
                                 "strokeColor": "black", "symbolType": "stroke", "symbolSize": 3969, "symbolStrokeWidth": 1.2,
                                 "labelFont": "Liberation Serif", "labelFontSize": 18.5, "labelColor": "black", "labelLimit": 1000, "labelOffset": 19, "rowPadding": 8,
                                 "labelExpr": "datum.value == 'beugung' ? ['Beugungsbedingte Intensitatsverteilung:', 'zᵣ~ 6.5 µm , W₀= 0.86 µm', ''] : ['Intensitatsverteilung für Gaußstahl:', 'zᵣ= 1.53 µm , W₀= 0.44 µm', '', '']",
                                 "encode": {"legend": {"update": {"strokeWidth": {"value": 2}}}, "labels": {"update": {"lineHeight": {"value": 32}, "dy": {"value": -32}}}}}},
            "strokeDash": {"field": "s", "type": "nominal", "scale": {"domain": ["beugung", "gauss"], "range": [[1, 0], [2, 2]]},
                      "legend": {"orient": "none", "legendX": 736, "legendY": 573, "title": " ", "titleFontSize": 8, "titlePadding": 45, "padding": 18,
                                 "strokeColor": "black", "symbolType": "stroke", "symbolSize": 3969, "symbolStrokeWidth": 1.2,
                                 "labelFont": "Liberation Serif", "labelFontSize": 18.5, "labelColor": "black", "labelLimit": 1000, "labelOffset": 19, "rowPadding": 8,
                                 "labelExpr": "datum.value == 'beugung' ? ['Beugungsbedingte Intensitatsverteilung:', 'zᵣ~ 6.5 µm , W₀= 0.86 µm', ''] : ['Intensitatsverteilung für Gaußstahl:', 'zᵣ= 1.53 µm , W₀= 0.44 µm', '', '']",
                                 "encode": {"legend": {"update": {"strokeWidth": {"value": 2}}}, "labels": {"update": {"lineHeight": {"value": 32}, "dy": {"value": -32}}}}}},
            "order": {"field": "z"}
          }
        },
        {
          "mark": {"type": "point", "opacity": 0},
          "encoding": {
            "x": {"field": "I", "type": "quantitative",
                  "axis": {"orient": "top", "values": [0,0.1,0.2,0.3,0.4,0.5,0.6,0.7,0.8,0.9,1.0], "tickSize": -4, "labels": false, "title": null}},
            "y": {"field": "z", "type": "quantitative",
                  "axis": {"orient": "right", "values": [-20,-10,0,10,20], "tickSize": -5, "labels": false, "title": null}}
          }
        }
      ],
      "resolve": {"axis": {"x": "independent", "y": "independent"}}
    },
    {
      "width": 693,
      "height": 330,
      "data": {"name": "radial"},
      "layer": [
        {
          "mark": {"type": "line", "strokeWidth": 1.1, "interpolate": "monotone", "clip": true},
          "encoding": {
            "x": {"field": "r", "type": "quantitative", "scale": {"domain": [-6, 6], "nice": false, "zero": false},
                  "axis": {"orient": "bottom", "values": [-6,-4,-2,0,2,4,6], "tickSize": 9, "labelPadding": 9, "labelExpr": "toString(datum.value)",
                           "title": "r [µm]", "titleX": 346, "titleY": 46, "titleAlign": "center", "titleBaseline": "middle"}},
            "y": {"field": "I", "type": "quantitative", "scale": {"domain": [-0.1, 1.1], "nice": false, "zero": false},
                  "axis": {"orient": "left", "values": [0,0.2,0.4,0.6,0.8,1.0], "tickSize": 8, "labelPadding": 3, "labelExpr": "format(datum.value, '.1f')",
                           "title": "I/I₀", "titleAngle": -90, "titleX": -85, "titleY": 128, "titleAlign": "center", "titleBaseline": "middle"}},
            "color": {"field": "s", "type": "nominal", "scale": {"domain": ["beugung", "gauss"], "range": ["#ff0000", "#0000ff"]}},
            "strokeDash": {"field": "s", "type": "nominal", "scale": {"domain": ["beugung", "gauss"], "range": [[1, 0], [2, 2]]}}
          }
        },
        {
          "mark": {"type": "point", "opacity": 0},
          "encoding": {
            "x": {"field": "r", "type": "quantitative",
                  "axis": {"orient": "bottom", "values": [-5,-3,-1,1,3,5], "tickSize": 5, "labels": false, "title": null}},
            "y": {"field": "I", "type": "quantitative",
                  "axis": {"orient": "left", "values": [-0.1,0.1,0.3,0.5,0.7,0.9], "tickSize": 4, "labels": false, "title": null}}
          }
        },
        {
          "mark": {"type": "point", "opacity": 0},
          "encoding": {
            "x": {"field": "r", "type": "quantitative",
                  "axis": {"orient": "top", "values": [-6,-5,-4,-3,-2,-1,0,1,2,3,4,5,6], "tickSize": 9, "labels": false, "title": null}},
            "y": {"field": "I", "type": "quantitative", "axis": null}
          }
        },
        {
          "mark": {"type": "point", "opacity": 0},
          "encoding": {
            "x": {"field": "r", "type": "quantitative",
                  "axis": {"orient": "top", "values": [-5.5,-4.5,-3.5,-2.5,-1.5,-0.5,0.5,1.5,2.5,3.5,4.5,5.5], "tickSize": 4, "labels": false, "title": null}},
            "y": {"field": "I", "type": "quantitative", "axis": null}
          }
        }
      ],
      "resolve": {"axis": {"x": "independent", "y": "independent"}}
    }
  ]
}
